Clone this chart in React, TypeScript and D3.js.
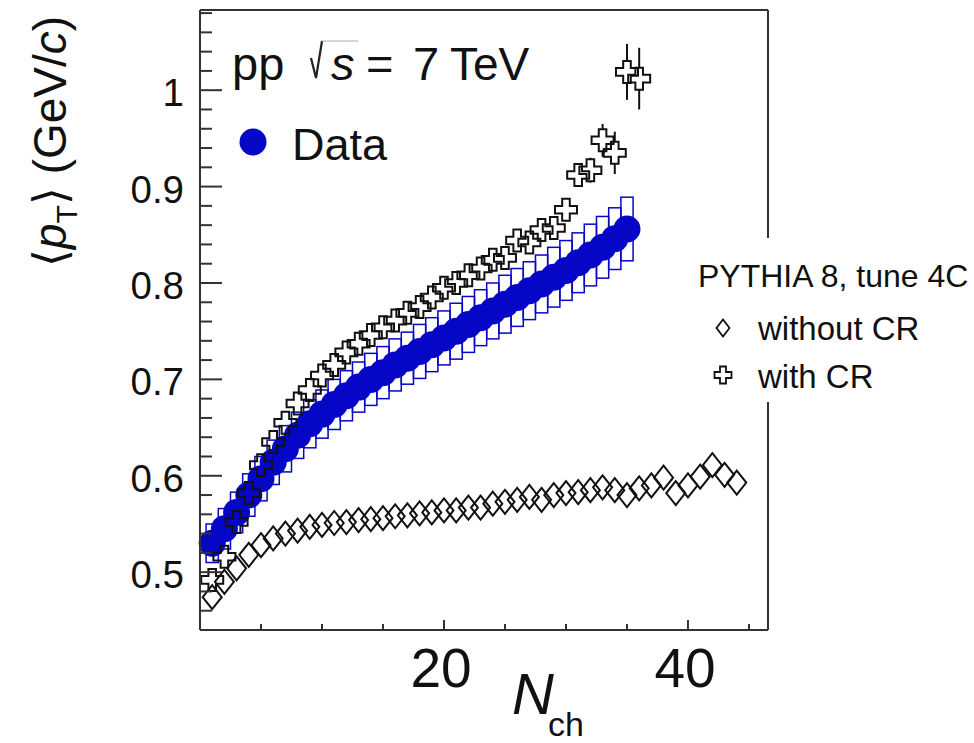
import React from 'react';
import * as d3 from 'd3';

const W = 974;
const H = 743;
const FONT = "'Liberation Sans', Arial, Helvetica, sans-serif";
const BLUE = '#0606c6';

// ---- Data (ALICE-like <pT> vs Nch) ----
const dataNch = [1,2,3,4,5,6,7,8,9,10,11,12,13,14,15,16,17,18,19,20,21,22,23,24,25,26,27,28,29,30,31,32,33,34,35];
const dataMean = [0.530,0.545,0.562,0.580,0.597,0.614,0.628,0.642,0.654,0.664,0.674,0.683,0.692,0.700,0.707,0.715,0.722,0.729,0.736,0.743,0.750,0.757,0.764,0.771,0.778,0.785,0.792,0.799,0.806,0.813,0.821,0.829,0.837,0.846,0.856];
const dataSys = [0.020,0.021,0.021,0.022,0.023,0.023,0.024,0.024,0.025,0.025,0.026,0.026,0.026,0.027,0.027,0.027,0.027,0.028,0.028,0.028,0.029,0.029,0.029,0.029,0.030,0.030,0.030,0.030,0.031,0.031,0.031,0.032,0.032,0.032,0.033];

// ---- PYTHIA 8 with colour reconnection ----
const crNch = [1,2,3,4,5,6,7,8,9,10,11,12,13,14,15,16,17,18,19,20,21,22,23,24,25,26,27,28,29,30,31,32,33,34,35,36];
const crMean = [0.492,0.516,0.552,0.582,0.611,0.635,0.655,0.675,0.689,0.704,0.715,0.728,0.737,0.746,0.754,0.761,0.769,0.775,0.785,0.795,0.800,0.808,0.815,0.824,0.826,0.844,0.842,0.855,0.857,0.876,0.912,0.917,0.948,0.935,1.019,1.012];
const crErr = [0.002,0.002,0.002,0.002,0.002,0.002,0.002,0.002,0.002,0.002,0.002,0.002,0.002,0.002,0.002,0.002,0.002,0.002,0.002,0.002,0.003,0.003,0.003,0.004,0.004,0.005,0.005,0.006,0.007,0.008,0.011,0.013,0.017,0.022,0.029,0.032];

// ---- PYTHIA 8 without colour reconnection ----
const noCrNch = [1,2,3,4,5,6,7,8,9,10,11,12,13,14,15,16,17,18,19,20,21,22,23,24,25,26,27,28,29,30,31,32,33,34,35,36,37,38,39,40,41,42,43,44];
const noCrMean = [0.474,0.490,0.504,0.518,0.528,0.535,0.540,0.543,0.547,0.549,0.551,0.552,0.554,0.555,0.556,0.558,0.559,0.561,0.562,0.564,0.564,0.567,0.567,0.571,0.573,0.575,0.578,0.575,0.580,0.582,0.583,0.585,0.588,0.585,0.580,0.587,0.590,0.598,0.582,0.590,0.599,0.611,0.601,0.593];

// ---- Axis ticks ----
const yMajorTicks = [0.5, 0.6, 0.7, 0.8, 0.9, 1.0];
const yTickLabels = ['0.5', '0.6', '0.7', '0.8', '0.9', '1'];
const xMajorTicks = [20, 40];
const xTickLabels = ['20', '40'];

const left = 200, right = 768, top = 10, bottom = 630;
const x = d3.scaleLinear().domain([0, 46.56]).range([left, right]);
const y = d3.scaleLinear().domain([0.44, 1.0832]).range([bottom, top]);

const yMinor = d3.range(0.44, 1.085, 0.02);
const xMinor = d3.range(5, 46, 5);

function diamondPath(cx: number, cy: number, hw: number, hh: number) {
  return `M${cx},${cy - hh}L${cx + hw},${cy}L${cx},${cy + hh}L${cx - hw},${cy}Z`;
}
function crossPath(cx: number, cy: number, L: number, a: number) {
  const p = [
    [-a, -L], [a, -L], [a, -a], [L, -a], [L, a], [a, a],
    [a, L], [-a, L], [-a, a], [-L, a], [-L, -a], [-a, -a],
  ];
  return 'M' + p.map(([dx, dy]) => `${cx + dx},${cy + dy}`).join('L') + 'Z';
}

export default function App() {
  const CL = 11, CA = 3.8;
  return (
    <svg width={W} height={H} style={{ position: 'absolute', left: 0, top: 0, background: '#fff' }}
      fontFamily={FONT}>
      <rect x={0} y={0} width={W} height={H} fill="#fff" />

      {/* systematic boxes */}
      <g fill="none" stroke={BLUE} strokeWidth={1.5}>
        {dataNch.map((n, i) => (
          <rect key={n} x={x(n - 0.5)} y={y(dataMean[i] + dataSys[i])}
            width={x(n + 0.5) - x(n - 0.5)}
            height={y(dataMean[i] - dataSys[i]) - y(dataMean[i] + dataSys[i])} />
        ))}
      </g>
      {/* data points */}
      <g fill={BLUE}>
        {dataNch.map((n, i) => (
          <circle key={n} cx={x(n)} cy={y(dataMean[i])} r={13.5} />
        ))}
      </g>
      {/* without CR diamonds */}
      <g fill="none" stroke="#111" strokeWidth={2}>
        {noCrNch.map((n, i) => (
          <path key={n} d={diamondPath(x(n), y(noCrMean[i]), 9.5, 12)} />
        ))}
      </g>
      {/* with CR crosses */}
      <g fill="none" stroke="#111" strokeWidth={2}>
        {crNch.map((n, i) => {
          const cx = x(n), cy = y(crMean[i]);
          const yt = y(crMean[i] + crErr[i]);
          const yb = y(crMean[i] - crErr[i]);
          return (
            <g key={n}>
              {yt < cy - CL && <line x1={cx} x2={cx} y1={yt} y2={cy - CL} />}
              {yb > cy + CL && <line x1={cx} x2={cx} y1={cy + CL} y2={yb} />}
              <path d={crossPath(cx, cy, CL, CA)} />
            </g>
          );
        })}
      </g>

      {/* frame */}
      <g stroke="#333" strokeWidth={2} fill="none">
        <line x1={left} x2={left} y1={top} y2={bottom} />
        <line x1={left} x2={right} y1={top} y2={top} />
        <line x1={left} x2={right} y1={bottom} y2={bottom} />
        <line x1={right} x2={right} y1={top} y2={bottom} />
      </g>
      {/* ticks */}
      <g stroke="#333" strokeWidth={2}>
        {yMinor.map((t) => {
          const major = yMajorTicks.some((m) => Math.abs(m - t) < 1e-6);
          return <line key={t} x1={left} x2={left + (major ? 22 : 12)} y1={y(t)} y2={y(t)} />;
        })}
        {xMinor.map((t) => {
          const major = xMajorTicks.includes(t);
          return <line key={t} x1={x(t)} x2={x(t)} y1={bottom} y2={bottom - (major ? 10 : 6)} />;
        })}
      </g>
      <g fontSize={38.5} fill="#111" textAnchor="end">
        {yMajorTicks.map((t, i) => (
          <text key={t} x={184} y={y(t) + 16}>{yTickLabels[i]}</text>
        ))}
      </g>
      <g fontSize={55} fill="#111" textAnchor="middle">
        {xMajorTicks.map((t, i) => (
          <text key={t} x={x(t) - 3} y={687}>{xTickLabels[i]}</text>
        ))}
      </g>

      {/* axis titles */}
      <text x={512} y={714} fontSize={58} fill="#111">
        <tspan fontStyle="italic">N</tspan>
        <tspan fontSize={34} dx={-6} dy={22}>ch</tspan>
      </text>
      <text transform="translate(66,267) rotate(-90)" fontSize={46} fill="#111">
        <tspan fontFamily="'DejaVu Sans', sans-serif" fontWeight={200}>⟨</tspan>
        <tspan fontStyle="italic">p</tspan>
        <tspan fontSize={30} dy={11}>T</tspan>
        <tspan fontFamily="'DejaVu Sans', sans-serif" dy={-11}>⟩</tspan>
        <tspan> (GeV/</tspan>
        <tspan fontStyle="italic">c</tspan>
        <tspan>)</tspan>
      </text>

      {/* collision label */}
      <g fontSize={47} fill="#111">
        <text x={232} y={80}>pp</text>
        <path d="M311,58L316,78L322,41" fill="none" stroke="#222" strokeWidth={2.2} />
        <line x1={322} x2={358} y1={41} y2={41} stroke="#aaa" strokeWidth={1} />
        <text x={331} y={80} fontStyle="italic">s</text>
        <text x={366} y={80}>=</text>
        <text x={413} y={80}>7</text>
        <text x={450} y={80} fontSize={46}>TeV</text>
      </g>
      {/* Data legend */}
      <circle cx={253} cy={142} r={13.5} fill={BLUE} />
      <text x={292} y={160} fontSize={45} fill="#111">Data</text>

      {/* PYTHIA legend */}
      <rect x={688} y={238} width={286} height={164} fill="#fff" />
      <text x={698} y={287} fontSize={32} fill="#111">PYTHIA 8, tune 4C</text>
      <path d={diamondPath(723, 328, 6.5, 8.5)} fill="none" stroke="#111" strokeWidth={1.8} />
      <text x={758} y={340} fontSize={33} fill="#111">without CR</text>
      <path d={crossPath(723, 375, 8.5, 3)} fill="none" stroke="#111" strokeWidth={1.8} />
      <text x={758} y={388} fontSize={33} fill="#111">with CR</text>
    </svg>
  );
}
